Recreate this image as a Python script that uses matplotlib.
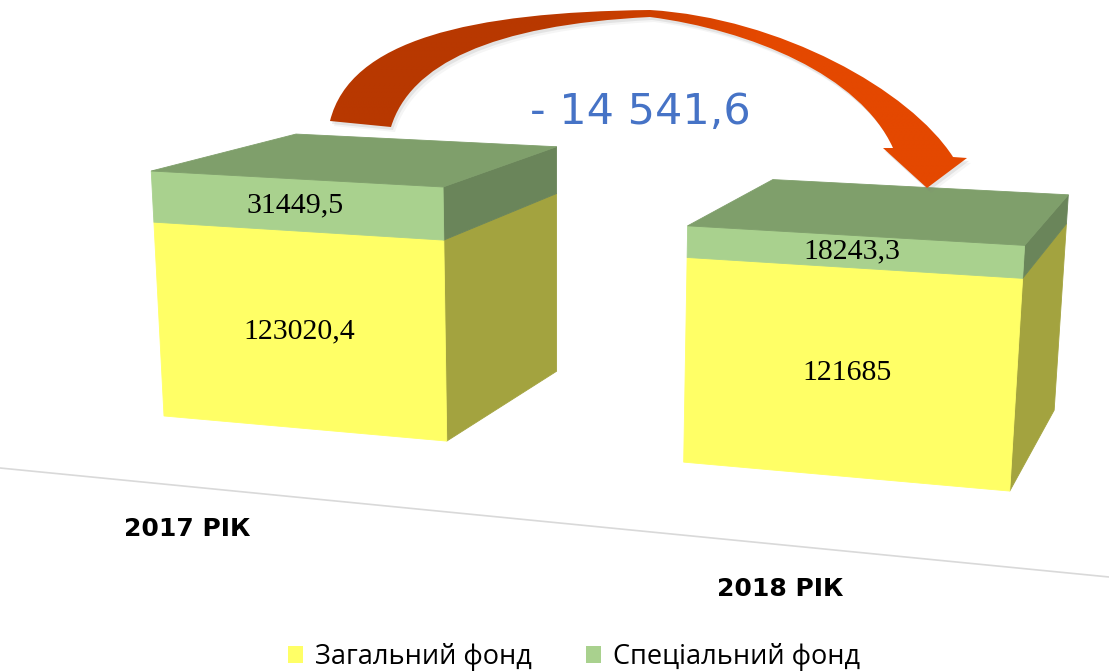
import numpy as np
import matplotlib
matplotlib.use('Agg')
import matplotlib.pyplot as plt
from matplotlib.patches import Polygon, Patch, PathPatch
from matplotlib.path import Path
from matplotlib.transforms import Affine2D
from matplotlib.colors import LinearSegmentedColormap

# ---------------- data ----------------
years = ['2017 РІК', '2018 РІК']
general_fund = [123020.4, 121685.0]
special_fund = [31449.5, 18243.3]
general_labels = ['123020,4', '121685']
special_labels = ['31449,5', '18243,3']
series_names = ['Загальний фонд', 'Спеціальний фонд']
change_label = '- 14 541,6'

# ---------------- style ----------------
W_PX, H_PX, DPI = 1109, 671, 100
front_colors = ['#FFFF66', '#A9D18E']
side_colors = ['#A3A33F', '#6A855A']
top_color = '#7F9F6B'

# perspective camera (view parameters)
FOCAL = 2238.0
PP = np.array([634.0, 531.0])
R = np.array([[0.9556, 0.2946, 0.0099],
              [0.0940, -0.2729, -0.9575],
              [-0.2794, 0.9157, -0.2884]])   # columns: world X, Y(depth), Z(up)
T = np.array([-297.5, -72.8, 1416.6])
SPACING = 342.0
BAR_W = 192.0
DEPTH = 205.0
VAL_SCALE = 1.0 / 1000.0
FLOOR_Y = -143.0


def project(pts):
    pts = np.atleast_2d(np.asarray(pts, dtype=float))
    cam = pts @ R.T + T
    u = PP[0] + FOCAL * cam[:, 0] / cam[:, 2]
    v = PP[1] + FOCAL * cam[:, 1] / cam[:, 2]
    return np.column_stack([u, v])


fig = plt.figure(figsize=(W_PX / DPI, H_PX / DPI), dpi=DPI)
ax = fig.add_axes([0, 0, 1, 1])
ax.set_xlim(0, W_PX)
ax.set_ylim(H_PX, 0)
ax.axis('off')

# floor line
fl = project([[-40, FLOOR_Y, 0], [900, FLOOR_Y, 0]])
ax.plot(fl[:, 0], fl[:, 1], color='#D9D9D9', lw=1.2, zorder=1)


def face(pts, color, z):
    xy = project(pts)
    ax.add_patch(Polygon(xy, closed=True, facecolor=color, edgecolor=color,
                         lw=0.6, zorder=z))


for i in range(len(years)):
    x0 = i * SPACING
    x1 = x0 + BAR_W
    stacks = [general_fund[i], special_fund[i]]
    labels = [general_labels[i], special_labels[i]]
    z_lo = 0.0
    for s, val in enumerate(stacks):
        z_hi = z_lo + val * VAL_SCALE
        zo = 3 + i
        face([[x1, 0, z_lo], [x1, DEPTH, z_lo], [x1, DEPTH, z_hi], [x1, 0, z_hi]],
             side_colors[s], zo)
        face([[x0, 0, z_lo], [x1, 0, z_lo], [x1, 0, z_hi], [x0, 0, z_hi]],
             front_colors[s], zo)
        c = project([[(x0 + x1) / 2, 0, (z_lo + z_hi) / 2]])[0]
        ax.text(c[0], c[1], labels[s], ha='center', va='center',
                fontsize=21.5, family='Liberation Serif', color='black', zorder=10)
        z_lo = z_hi
    face([[x0, 0, z_lo], [x1, 0, z_lo], [x1, DEPTH, z_lo], [x0, DEPTH, z_lo]],
         top_color, 3 + i)
    # category label
    p = project([[(x0 + x1) / 2, FLOOR_Y, 0]])[0]
    ax.annotate(years[i], xy=(p[0], p[1]), xytext=(-6, -42 - 2 * i),
                textcoords='offset pixels', ha='center', va='center',
                fontsize=18, fontweight='bold', family='DejaVu Sans',
                color='black', zorder=10)

# curved arrow (decoration)
verts = [(330, 121),
         (350, 40), (470, 12), (650, 10),
         (780, 18), (910, 90), (953, 157),
         (967, 158), (927, 188), (883, 148), (893, 148),
         (860, 75), (750, 30), (650, 17),
         (490, 25), (410, 65), (391, 127),
         (330, 121)]
codes = ([Path.MOVETO] + [Path.CURVE4] * 6 + [Path.LINETO] * 4 +
         [Path.CURVE4] * 6 + [Path.CLOSEPOLY])
arrow_path = Path(verts, codes)
for k, a in [(5, 0.08), (3, 0.15)]:
    shadow = PathPatch(arrow_path, facecolor='#808080', edgecolor='none', alpha=a,
                       transform=Affine2D().translate(k - 1, k) + ax.transData, zorder=7)
    ax.add_patch(shadow)
arrow = PathPatch(arrow_path, facecolor='none', edgecolor='none', zorder=8)
ax.add_patch(arrow)
grad = np.linspace(0, 1, 256).reshape(1, -1)
cmap = LinearSegmentedColormap.from_list('arr', ['#B83800', '#B83800', '#E44800', '#E44800'])
im = ax.imshow(grad, extent=(330, 970, 200, 0), cmap=cmap, aspect='auto',
               zorder=8, interpolation='bilinear')
im.set_clip_path(arrow)
ax.set_xlim(0, W_PX)
ax.set_ylim(H_PX, 0)

ax.text(640, 124, change_label, ha='center', va='baseline', fontsize=31,
        family='DejaVu Sans', color='#4673C6', zorder=9)

handles = [Patch(facecolor=front_colors[0], edgecolor='none'),
           Patch(facecolor=front_colors[1], edgecolor='none')]
fig.legend(handles, series_names, loc='center', bbox_to_anchor=(574 / W_PX, 1 - 657 / H_PX),
           ncol=2, frameon=False, prop={'family': ['Open Sans', 'DejaVu Sans'], 'size': 19.5},
           handlelength=0.55, handleheight=0.55, handletextpad=0.45, columnspacing=2.0)

fig.savefig('out.png', dpi=DPI)
